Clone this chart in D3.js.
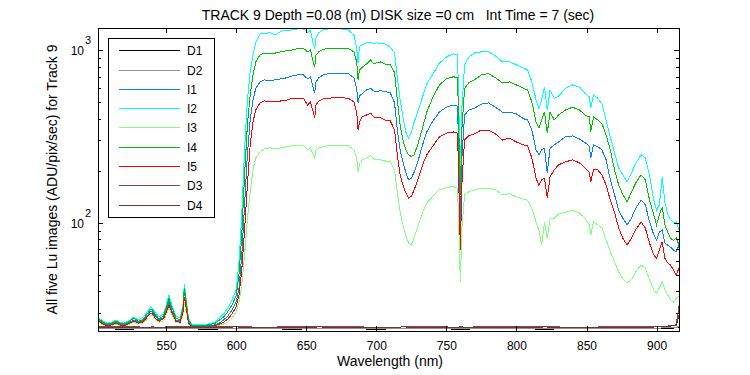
<!DOCTYPE html>
<html>
<head>
<meta charset="utf-8">
<script src="https://d3js.org/d3.v7.min.js"></script>
<style>
  body { margin: 0; background: #fff; }
  svg { font-family: "Liberation Sans", Arial, sans-serif; }
</style>
</head>
<body>
<div id="chart"></div>
<script>
// wavelength grid (nm) for the five Lu images
const wl = [502,505,508,511,514,517,520,523,527,530,533,536,539,540,542,545,548,550,552,554,
  557,560,562,563,564,566,568,571,575,580,585,588,591,594,597,600,602,604,606,608,
  610,612,614,617,620,624,628,632,636,640,644,648,651,653,655,656,657,659,662,666,
  670,675,680,684,686,687,688,690,693,696,698,700,703,706,710,713,715,717,719,721,
  723,725,727,730,733,736,740,745,750,755,758,760,761,763,766,770,775,780,785,790,
  795,800,805,808,811,814,816,818,820,822,824,827,830,835,840,845,849,852,853,855,
  858,861,864,867,870,873,876,879,882,885,889,892,895,898,900,902,904,906,908,910,
  912,914,916];

const i1 = [27.3,26.2,25.6,25.9,26.5,25.9,25.6,26.2,27.3,26.5,26.9,28.4,30.8,30.8,28.8,27.3,28.1,30.8,34.8,31.2,
  27.3,26.9,30.8,39.7,35.3,26.5,25.3,24.9,24.9,25.3,25.6,26.2,27.3,28.8,31.2,34.8,41.9,65,127,247,
  393,513,600,653,671,665,671,680,690,707,717,717,680,700,600,565,653,690,717,730,
  730,730,730,690,600,494,540,560,587,600,580,575,580,575,565,494,344,264,225,196,
  177,181,196,231,282,335,383,437,466,480,473,97,231,420,449,460,486,494,466,437,
  437,426,400,393,344,264,247,264,270,194,270,282,293,314,318,305,290,278,237,282,
  275,264,231,177,145,118,106,97,106,121,135,127,101,85,79,88,91,76,74,72,
  69.5,68,74];

const i2 = [28.1,26.9,26.2,26.5,27.3,26.5,26.2,26.9,28.4,27.3,28.1,30.0,32.5,32.0,30.5,28.4,29.6,33.0,38.1,33.4,
  28.8,28.1,33.4,44.2,38.0,28.0,25.9,25.6,25.6,25.9,26.5,28.1,29.6,32.0,35.7,40.8,59,111,264,513,
  748,936,1110,1240,1240,1260,1222,1285,1300,1306,1325,1325,1260,1300,1085,1020,1175,1260,1306,1325,
  1325,1325,1306,1222,1020,840,1050,1069,1100,1110,1085,1100,1085,1085,1040,960,690,513,410,335,
  310,335,383,449,535,635,717,840,910,950,936,189,449,819,910,960,975,975,925,855,
  855,819,785,766,653,513,460,513,610,449,587,525,540,600,627,610,560,535,460,549,
  525,486,393,314,253,207,189,172,193,220,247,237,189,135,118,127,183,130,111,104,
  100,101,91];

const i3 = [26.5,25.6,24.9,25.3,25.9,25.3,24.9,25.6,26.5,25.9,26.2,27.3,29.2,29.2,27.7,26.5,26.9,29.2,32.0,29.6,
  26.5,26.2,29.2,34.8,32.0,25.9,24.9,24.6,24.6,24.6,24.9,25.3,25.9,26.5,28.1,30.5,34.8,43.6,65,104,
  151,202,237,257,268,271,268,271,275,279,282,279,264,271,247,237,264,271,275,279,
  279,279,279,264,237,196,219,231,237,244,234,231,231,228,225,202,149,115,97,84.9,
  76.3,74.3,81.5,97,115,130,141,155,160,162,158,45.4,90.7,145,151,155,158,158,155,145,
  147,141,137,135,121,101,90.7,74.3,101,81.5,106,106,112,115,118,114,106,97,84.9,101,
  97,93,79.4,67.7,59.2,51.8,47.2,44.8,46.6,51.8,56.9,54.6,46.6,40.8,39.2,41.9,45.4,40.8,38.1,35.7,
  34.8,36.6,37.6];

const i4 = [27.7,26.5,25.9,26.2,26.9,26.2,25.9,26.5,28.1,26.9,27.3,29.2,31.6,31.6,29.6,27.7,28.8,32.0,36.6,32.5,
  28.1,27.3,32.0,41.9,36.6,27.3,25.6,25.3,25.3,25.6,26.2,27.3,28.4,30.5,33.4,37.7,49.8,85,189,368,
  549,717,852,936,960,960,960,975,990,1000,1020,1020,975,1000,852,795,936,975,1010,1020,
  1020,1020,1020,975,852,671,766,795,830,875,830,840,852,830,819,742,513,368,301,264,
  247,242,247,290,354,437,525,627,680,700,690,145,344,600,645,671,717,730,690,645,
  653,627,600,587,500,383,354,393,437,330,437,393,420,449,466,449,420,410,335,410,
  393,375,322,264,202,165,145,132,150,169,189,177,135,111,97,111,123,97,88,81,
  79,82,74];

const i5 = [26.9,25.9,25.3,25.6,26.2,25.6,25.3,25.9,26.9,26.2,26.5,28.1,30.0,30.0,28.1,26.9,27.7,30.0,33.4,30.5,
  26.9,26.5,30.0,37.2,33.4,26.2,24.9,24.6,24.6,24.9,25.3,25.9,26.5,27.7,29.6,32.5,38.1,53.2,90.7,165,
  282,383,449,494,507,500,500,507,513,525,525,525,480,500,437,404,480,507,520,525,
  530,530,525,500,437,344,383,410,420,431,410,404,404,393,388,344,247,189,165,149,
  139,142,155,181,216,247,275,314,330,335,330,69.5,165,301,318,327,344,344,327,301,
  309,293,282,278,237,181,165,177,181,139,185,202,216,225,231,222,207,196,172,202,
  202,189,165,135,115,93,81,74.3,81,90.7,101,93,76,65,62,69.5,77.5,62,58.5,56.9,
  53.2,49.8,54.6];

// dark images, coarser grid
const darkWl = [502,520,540,560,580,600,620,640,660,680,700,720,740,760,780,800,820,840,860,880,900,905,910,914,916];
const dark1 = [24.3,24.2,24.3,24.3,24.2,24.3,24.3,24.2,24.3,24.3,24.2,24.3,24.3,24.2,24.3,24.3,24.2,24.3,24.3,24.3,24.3,24.4,24.5,24.6,24.8];
const dark2 = [24.5,24.5,24.4,24.5,24.5,24.4,24.5,24.5,24.5,24.4,24.5,24.5,24.4,24.5,24.5,24.5,24.4,24.5,24.5,24.5,24.5,24.6,24.7,24.8,25.0];
const dark3 = [24.9,25.0,24.8,25.0,24.9,25.0,24.8,25.0,24.9,25.0,24.8,24.9,25.0,24.8,25.0,24.9,25.0,24.8,24.9,25.0,25.0,25.1,25.3,25.6,33];
const dark4 = [24.8,24.7,24.9,24.7,24.8,24.9,24.7,24.8,24.9,24.7,24.8,24.9,24.7,24.9,24.8,24.7,24.9,24.8,24.7,24.8,24.9,25.0,25.2,25.4,29];

const legendNames = ["D1", "D2", "I1", "I2", "I3", "I4", "I5", "D3", "D4"];
const legendColors = ["#000000", "#909090", "#0a7ff5", "#00ffff", "#80ff80", "#00c000", "#ff0000", "#804545", "#703535"];

const xTicks = [550, 600, 650, 700, 750, 800, 850, 900];
const yMajor = [100, 1000];
const yMinor = [30, 40, 50, 60, 70, 80, 90, 200, 300, 400, 500, 600, 700, 800, 900];

const W = 750, H = 375;
const margin = { top: 28, right: 71, bottom: 44, left: 98 };
const width = W - margin.left - margin.right;
const height = H - margin.top - margin.bottom;

const svg = d3.select("#chart")
  .append("svg")
  .attr("width", W)
  .attr("height", H);

const g = svg.append("g")
  .attr("transform", `translate(${margin.left},${margin.top})`);

const x = d3.scaleLinear().domain([501.4, 916]).range([0, width]);
const y = d3.scaleLog().domain([23.6, 1340]).range([height, 0]);

g.append("clipPath").attr("id", "clip")
  .append("rect").attr("width", width).attr("height", height);

// series in legend order
const series = [
  { wl: darkWl, v: dark1 }, { wl: darkWl, v: dark2 },
  { wl: wl, v: i1 }, { wl: wl, v: i2 }, { wl: wl, v: i3 }, { wl: wl, v: i4 }, { wl: wl, v: i5 },
  { wl: darkWl, v: dark3 }, { wl: darkWl, v: dark4 }
];

const line = d3.line().x(d => x(d[0])).y(d => y(d[1]));

g.append("g").attr("clip-path", "url(#clip)")
  .selectAll("path")
  .data(series)
  .enter().append("path")
  .attr("d", s => line(d3.zip(s.wl, s.v)))
  .attr("fill", "none")
  .attr("stroke", (s, i) => legendColors[i])
  .attr("stroke-width", 1)
  .attr("shape-rendering", "crispEdges");

// axes, ticks pointing inward on all four sides
function styleAxis(sel) {
  sel.select(".domain").remove();
  sel.selectAll(".tick line").attr("stroke", "#000").attr("shape-rendering", "crispEdges");
  sel.selectAll("text").attr("fill", "#000").attr("font-size", 12).attr("font-family", "Liberation Sans, Arial, sans-serif");
}

g.append("g")
  .attr("transform", `translate(0,${height})`)
  .call(d3.axisBottom(x).tickValues(xTicks).tickFormat(d3.format("d")).tickSize(-5).tickPadding(10))
  .call(styleAxis);

g.append("g")
  .call(d3.axisTop(x).tickValues(xTicks).tickFormat("").tickSize(-5))
  .call(styleAxis);

g.append("g")
  .call(d3.axisLeft(y).tickValues(yMinor).tickFormat("").tickSize(-3))
  .call(styleAxis);
g.append("g")
  .call(d3.axisLeft(y).tickValues(yMajor).tickFormat("").tickSize(-5))
  .call(styleAxis);
g.append("g")
  .attr("transform", `translate(${width},0)`)
  .call(d3.axisRight(y).tickValues(yMinor).tickFormat("").tickSize(-3))
  .call(styleAxis);
g.append("g")
  .attr("transform", `translate(${width},0)`)
  .call(d3.axisRight(y).tickValues(yMajor).tickFormat("").tickSize(-5))
  .call(styleAxis);

// 10^n labels
g.selectAll(".ylab")
  .data(yMajor)
  .enter().append("text")
  .attr("class", "ylab")
  .attr("x", -14)
  .attr("y", d => y(d) + 5)
  .attr("text-anchor", "end")
  .attr("font-size", 12)
  .text("10");

g.selectAll(".yexp")
  .data(yMajor)
  .enter().append("text")
  .attr("class", "yexp")
  .attr("x", -13)
  .attr("y", d => y(d) - 6)
  .attr("font-size", 11)
  .text(d => Math.round(Math.log10(d)));

g.append("rect")
  .attr("width", width)
  .attr("height", height)
  .attr("fill", "none")
  .attr("stroke", "#000")
  .attr("shape-rendering", "crispEdges");

// legend
const legend = g.append("g").attr("transform", "translate(10,10)");
legend.append("rect")
  .attr("width", 106)
  .attr("height", 179)
  .attr("fill", "#fff")
  .attr("stroke", "#000")
  .attr("shape-rendering", "crispEdges");

const rows = legend.selectAll(".row")
  .data(legendNames)
  .enter().append("g")
  .attr("transform", (d, i) => `translate(0,${12.7 + i * 19.3})`);
rows.append("line")
  .attr("x1", 11).attr("x2", 72)
  .attr("stroke", (d, i) => legendColors[i])
  .attr("stroke-width", 1)
  .attr("shape-rendering", "crispEdges");
rows.append("text")
  .attr("x", 79)
  .attr("y", 4.5)
  .attr("font-size", 12)
  .text(d => d);

// titles
svg.append("text")
  .attr("x", 398)
  .attr("y", 20)
  .attr("text-anchor", "middle")
  .attr("font-size", 14)
  .style("white-space", "pre")
  .text("TRACK 9 Depth =0.08 (m) DISK size =0 cm   Int Time = 7 (sec)");

svg.append("text")
  .attr("x", 390)
  .attr("y", 366)
  .attr("text-anchor", "middle")
  .attr("font-size", 14)
  .text("Wavelength (nm)");

svg.append("text")
  .attr("transform", `translate(57,${margin.top + height / 2}) rotate(-90)`)
  .attr("text-anchor", "middle")
  .attr("font-size", 14)
  .text("All five Lu images (ADU/pix/sec) for Track 9");
</script>
</body>
</html>
